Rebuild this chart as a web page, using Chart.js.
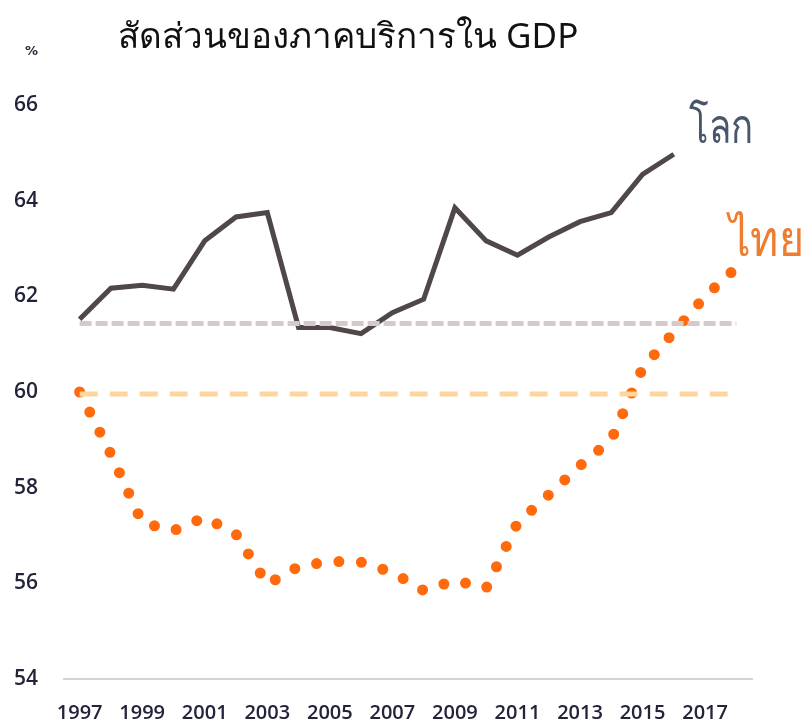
<!DOCTYPE html>
<html>
<head>
<meta charset="utf-8">
<script src="https://cdn.jsdelivr.net/npm/chart.js@4"></script>
<style>
	html, body { margin: 0; padding: 0; background: #fff; }
	#wrap { position: relative; width: 808px; height: 724px; }
	#title { position: absolute; left: 118px; top: 8px; font: 35px "Noto Sans", "DejaVu Sans", sans-serif; color: #111; white-space: nowrap; }
	#unit { position: absolute; left: 25px; top: 43px; font: bold 13px "DejaVu Sans", sans-serif; color: #2a2a3a; }
	.tag { position: absolute; font-weight: 300; font-size: 48px; font-family: "Noto Sans", "DejaVu Sans", sans-serif; white-space: nowrap; transform: scaleX(0.76); transform-origin: left top; }
	#tagWorld { left: 689px; top: 88px; color: #48566b; }
	#tagThai { left: 729px; top: 199px; color: #ef7d2f; font-size: 50px; transform: scaleX(0.86); }
</style>
</head>
<body>
<div id="wrap">
	<canvas id="chart" width="808" height="724"></canvas>
	<div id="title">สัดส่วนของภาคบริการใน GDP</div>
	<div id="unit">%</div>
	<div class="tag" id="tagWorld">โลก</div>
	<div class="tag" id="tagThai">ไทย</div>
</div>
<script>
document.addEventListener('DOMContentLoaded', function() {
	const years = ['1997', '1998', '1999', '2000', '2001', '2002', '2003', '2004', '2005', '2006', '2007',
		'2008', '2009', '2010', '2011', '2012', '2013', '2014', '2015', '2016', '2017', '2018']

	// services share of GDP (%), world ends 2016
	const world = [61.52, 62.17, 62.23, 62.15, 63.16, 63.66, 63.75, 61.35, 61.35, 61.22, 61.66,
		61.94, 63.85, 63.16, 62.86, 63.24, 63.56, 63.75, 64.55, 64.97, null, null]
	const thai = [60.0, 58.7, 57.27, 57.1, 57.38, 57.03, 55.98, 56.35, 56.46, 56.44, 56.23,
		55.85, 56.06, 55.9, 57.26, 57.85, 58.46, 59.0, 60.5, 61.25, 62.0, 62.6]

	// reference levels
	const worldAvg = 61.43
	const thaiAvg = 59.96

	const yTicks = [54, 56, 58, 60, 62, 64, 66]
	const tickFont = { family: '"Open Sans", "DejaVu Sans", sans-serif', size: 21, weight: '600' }

	new Chart(document.getElementById('chart'), {
		type: 'line',
		data: {
			labels: years,
			datasets: [
				{
					data: years.map(() => worldAvg),
					borderColor: '#d6c9c9',
					borderWidth: 5,
					borderDash: [12, 4],
					pointRadius: 0
				},
				{
					data: years.map(() => thaiAvg),
					borderColor: '#ffd59e',
					borderWidth: 5,
					borderDash: [18, 12],
					pointRadius: 0
				},
				{
					data: world,
					borderColor: '#504748',
					borderWidth: 5,
					pointRadius: 0,
					tension: 0
				},
				{
					data: thai,
					borderColor: '#ff6a0d',
					borderWidth: 11,
					borderCapStyle: 'round',
					borderDash: [0, 22.5],
					pointRadius: 0,
					tension: 0
				}
			]
		},
		options: {
			responsive: false,
			animation: false,
			layout: { padding: { top: 105, right: 56, left: 0, bottom: 0 } },
			plugins: {
				legend: { display: false },
				tooltip: { enabled: false }
			},
			scales: {
				x: {
					type: 'category',
					offset: true,
					grid: { display: false },
					border: { display: true, color: '#d3d3d3', width: 2 },
					ticks: {
						autoSkip: false,
						maxRotation: 0,
						padding: 14,
						color: '#23233a',
						font: { family: tickFont.family, size: 20, weight: '600' },
						callback: (v, i) => (i % 2 === 0 ? years[i] : '')
					},
					afterFit: scale => { scale.height = 45 }
				},
				y: {
					min: 54,
					max: 66,
					grid: { display: false },
					border: { display: false },
					afterBuildTicks: scale => { scale.ticks = yTicks.map(v => ({ value: v })) },
					ticks: {
						padding: 18,
						color: '#23233a',
						font: tickFont
					},
					afterFit: scale => { scale.width = 64 }
				}
			}
		}
	})
})
</script>
</body>
</html>
